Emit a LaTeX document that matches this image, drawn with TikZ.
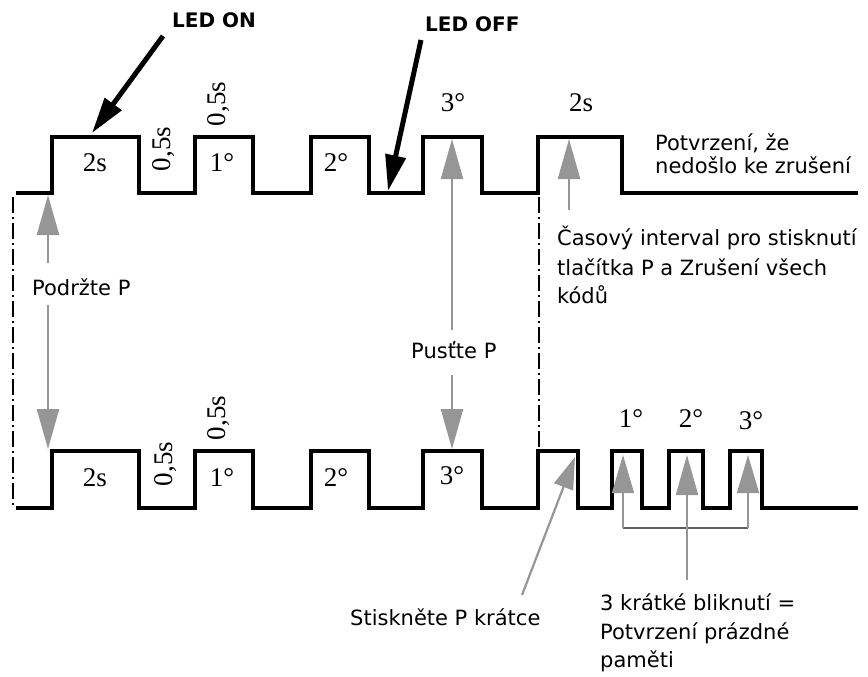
\documentclass[tikz,border=0pt]{standalone}
\usepackage{fontspec}
\setmainfont{DejaVu Sans}
\newfontfamily\numfont{Liberation Serif}
\usetikzlibrary{arrows.meta}
\definecolor{arrowgray}{RGB}{150,150,150}
\definecolor{bracketgray}{RGB}{95,95,95}
\begin{document}
\begin{tikzpicture}[x=1pt,y=-1pt,
  wave/.style={line width=4pt, line join=miter},
  num/.style={font=\numfont\fontsize{27}{27}\selectfont, inner sep=0},
  lbl/.style={font=\fontsize{21}{24}\selectfont, inner sep=0, anchor=base west},
  ledlbl/.style={font=\bfseries\fontsize{20}{24}\selectfont, inner sep=0, anchor=base west},
  blackarrow/.style={line width=5pt, -{Triangle[length=36pt,width=20pt]}},
  grayarrow/.style={draw=arrowgray, line width=2.2pt, -{Triangle[length=40pt,width=22pt,color=arrowgray]}},
  thingray/.style={draw=arrowgray, line width=1.2pt, -{Triangle[length=38pt,width=22pt,color=arrowgray]}},
  dashdot/.style={line width=1.3pt, dash pattern=on 16pt off 4pt on 2pt off 4pt},
  bracket/.style={draw=bracketgray, line width=1.2pt}]
\useasboundingbox (0,0) rectangle (868,677);

% waveforms
\draw[wave] (16,193) -| (52,137) -| (139,193) -| (195,137) -| (253,193) -| (311,137) -| (369,193)
  -| (423,137) -| (482,193) -| (538,137) -| (622,193) -- (858,193);
\draw[wave] (16,508) -| (52,451) -| (139,508) -| (195,451) -| (253,508) -| (311,451) -| (369,508)
  -| (423,451) -| (482,508) -| (538,451) -| (578,508) -| (612,451) -| (642,508) -| (669,451)
  -| (703,508) -| (730,451) -| (762,508) -- (858,508);

% dash-dot lines
\coordinate (ddLa) at (13,197);
\coordinate (ddLb) at (13,507);
\coordinate (ddRa) at (539,197);
\coordinate (ddRb) at (539,449);
\draw[dashdot] (ddLa) -- (ddLb);
\draw[dashdot] (ddRa) -- (ddRb);

% LED labels and arrows
\node[ledlbl] (ledon) at (172,28) {LED ON};
\node[ledlbl] (ledoff) at (425,32) {LED OFF};
\coordinate (ledonS) at (163,36);
\coordinate (ledonT) at (92,133);
\coordinate (ledoffS) at (421,40);
\coordinate (ledoffT) at (388,191);
\draw[blackarrow] (ledonS) -- (ledonT);
\draw[blackarrow] (ledoffS) -- (ledoffT);

% top numbers
\node[num] (t2s) at (95,163) {2s};
\node[num, rotate=90] (t05a) at (164,149) {0,5s};
\node[num, rotate=90] (t05b) at (219,104) {0,5s};
\node[num] (t1) at (222,163) {1°};
\node[num] (t2) at (336,163) {2°};
\node[num] (t3) at (453,103) {3°};
\node[num] (t2sb) at (581,103) {2s};

% bottom numbers
\node[num] (b2s) at (95,478) {2s};
\node[num, rotate=90] (b05a) at (166,464) {0,5s};
\node[num, rotate=90] (b05b) at (219,418) {0,5s};
\node[num] (b1) at (222,478) {1°};
\node[num] (b2) at (336,478) {2°};
\node[num] (b3) at (452,476) {3°};
\node[num] (c1) at (631,419) {1°};
\node[num] (c2) at (691,419) {2°};
\node[num] (c3) at (751,421) {3°};

% texts
\node[lbl] (pot1) at (655,150) {Potvrzení, že};
\node[lbl] (pot2) at (655,173) {nedošlo ke zrušení};
\node[lbl] (cas1) at (557,245) {Časový interval pro stisknutí};
\node[lbl] (cas2) at (557,275) {tlačítka P a Zrušení všech};
\node[lbl] (cas3) at (557,303) {kódů};
\node[lbl] (podrz) at (32,295) {Podržte P};
\node[lbl] (pust) at (411,358) {Pusťte P};
\node[lbl] (stisk) at (350,625) {Stiskněte P krátce};
\node[lbl] (kr1) at (600,610) {3 krátké bliknutí =};
\node[lbl] (kr2) at (600,639) {Potvrzení prázdné};
\node[lbl] (kr3) at (600,667) {paměti};

% gray arrows
\coordinate (podA) at (48,263);
\coordinate (podAT) at (48,195);
\coordinate (podB) at (48,305);
\coordinate (podBT) at (48,449);
\draw[grayarrow] (podA) -- (podAT);
\draw[grayarrow] (podB) -- (podBT);
\coordinate (pusA) at (452,330);
\coordinate (pusAT) at (452,139);
\coordinate (pusB) at (452,375);
\coordinate (pusBT) at (452,449);
\draw[grayarrow] (pusA) -- (pusAT);
\draw[grayarrow] (pusB) -- (pusBT);
\coordinate (casA) at (569,210);
\coordinate (casAT) at (569,139);
\draw[grayarrow] (casA) -- (casAT);
\coordinate (stA) at (522,595);
\coordinate (stAT) at (575,457);
\draw[draw=arrowgray, line width=2.2pt, -{Triangle[length=32pt,width=20pt,color=arrowgray]}] (stA) -- (stAT);

% bracket
\coordinate (brL) at (623,528);
\coordinate (brM) at (687,528);
\coordinate (brR) at (748,528);
\coordinate (brLT) at (623,455);
\coordinate (brMT) at (687,455);
\coordinate (brRT) at (748,455);
\coordinate (brMB) at (687,580);
\draw[bracket] (brL) -- (brR);
\draw[thingray] (brL) -- (brLT);
\draw[thingray] (brR) -- (brRT);
\draw[grayarrow] (brMB) -- (brMT);
\end{tikzpicture}
\end{document}
